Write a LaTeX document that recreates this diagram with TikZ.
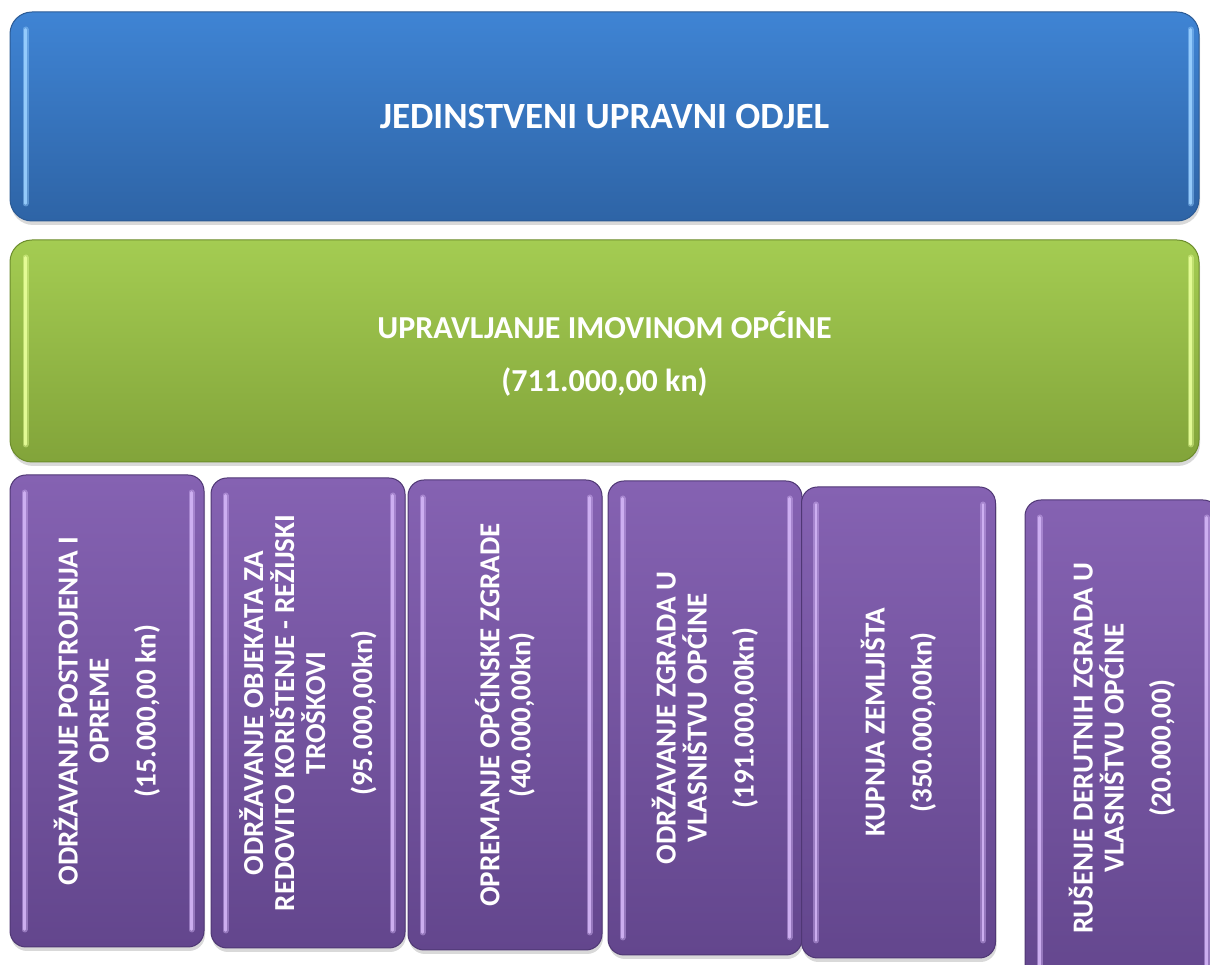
\documentclass[tikz,border=0pt]{standalone}
\usepackage{fontspec}
\setmainfont{Carlito}
\usetikzlibrary{calc,shadows}
\definecolor{bluetop}{HTML}{3F84D4}
\definecolor{bluebot}{HTML}{2E64A6}
\definecolor{blueborder}{HTML}{2B5A94}
\definecolor{bluehl}{HTML}{9AD0FF}
\definecolor{greentop}{HTML}{A4CC52}
\definecolor{greenbot}{HTML}{82A43A}
\definecolor{greenborder}{HTML}{6C8C2C}
\definecolor{greenhl}{HTML}{E8FF9A}
\definecolor{purpletop}{HTML}{8562B2}
\definecolor{purplebot}{HTML}{63468D}
\definecolor{purpleborder}{HTML}{4F3774}
\definecolor{purplehl}{HTML}{D2B4F5}
\tikzset{
  x=1pt, y=1pt,
  gbox/.style={rounded corners=#1, line width=1pt, inner sep=0pt,
    drop shadow={opacity=0.3, shadow xshift=1pt, shadow yshift=-4pt}},
  bigbox/.style={gbox=22pt, minimum width=1189pt},
  blueb/.style={bigbox, draw=blueborder, top color=bluetop, bottom color=bluebot, minimum height=209pt},
  greenb/.style={bigbox, draw=greenborder, top color=greentop, bottom color=greenbot, minimum height=222pt},
  purpleb/.style={gbox=16pt, draw=purpleborder, top color=purpletop, bottom color=purplebot, minimum width=194pt},
  hl/.style={draw=#1, line width=6pt, line cap=round, opacity=0.45},
  hlc/.style={draw=#1, line width=2.5pt, line cap=round, opacity=0.9},
  toptxt/.style={text=white, font=\bfseries\fontsize{37}{42}\selectfont, align=center, inner sep=0pt},
  midtxtst/.style={text=white, font=\bfseries\fontsize{32}{38}\selectfont, align=center, inner sep=0pt},
  vtxt/.style={text=white, font=\bfseries\fontsize{29}{31}\selectfont, align=center, inner sep=0pt, rotate=90},
}
\begin{document}
\begin{tikzpicture}
\useasboundingbox (0,0) rectangle (1210,965);
% top boxes
\node[blueb] (top) at (604.5,848.5) {};
\node[greenb] (mid) at (604.5,614) {};
\foreach \b/\c in {top/bluehl,mid/greenhl}{
  \draw[hl=\c] ($(\b.north west)+(16,-18)$) -- ($(\b.south west)+(16,18)$);
  \draw[hlc=\c] ($(\b.north west)+(16,-18)$) -- ($(\b.south west)+(16,18)$);
  \draw[hl=\c] ($(\b.north east)+(-9,-18)$) -- ($(\b.south east)+(-9,18)$);
  \draw[hlc=\c] ($(\b.north east)+(-9,-18)$) -- ($(\b.south east)+(-9,18)$);
}
\node[toptxt] (toptext) at (604.5,848) {JEDINSTVENI UPRAVNI ODJEL};
\node[midtxtst] (midtext) at (604.5,611) {UPRAVLJANJE IMOVINOM OPĆINE\\[15pt](711.000,00 kn)};
% purple boxes
\node[purpleb, minimum height=472pt] (p1) at (107,254) {};
\node[purpleb, minimum height=470pt] (p2) at (308,252) {};
\node[purpleb, minimum height=470pt] (p3) at (505,250) {};
\node[purpleb, minimum height=474pt] (p4) at (705,247) {};
\node[purpleb, minimum height=471pt] (p5) at (898.5,242.5) {};
\node[purpleb, minimum height=496pt] (p6) at (1122,217) {};
\foreach \p in {p1,p2,p3,p4,p5,p6}{
  \draw[hl=purplehl] ($(\p.north west)+(15,-18)$) -- ($(\p.south west)+(15,18)$);
  \draw[hlc=purplehl] ($(\p.north west)+(15,-18)$) -- ($(\p.south west)+(15,18)$);
  \draw[hl=purplehl] ($(\p.north east)+(-13,-18)$) -- ($(\p.south east)+(-13,18)$);
  \draw[hlc=purplehl] ($(\p.north east)+(-13,-18)$) -- ($(\p.south east)+(-13,18)$);
}
\node[vtxt] (t1) at (p1.center) {ODRŽAVANJE POSTROJENJA I\\OPREME\\[16pt](15.000,00 kn)};
\node[vtxt] (t2) at (p2.center) {ODRŽAVANJE OBJEKATA ZA\\REDOVITO KORIŠTENJE - REŽIJSKI\\TROŠKOVI\\[16pt](95.000,00kn)};
\node[vtxt] (t3) at (p3.center) {OPREMANJE OPĆINSKE ZGRADE\\(40.000,00kn)};
\node[vtxt] (t4) at (p4.center) {ODRŽAVANJE ZGRADA U\\VLASNIŠTVU OPĆINE\\[16pt](191.000,00kn)};
\node[vtxt] (t5) at (p5.center) {KUPNJA ZEMLJIŠTA\\[16pt](350.000,00kn)};
\node[vtxt] (t6) at (p6.center) {RUŠENJE DERUTNIH ZGRADA U\\VLASNIŠTVU OPĆINE\\[16pt](20.000,00)};
\end{tikzpicture}
\end{document}
